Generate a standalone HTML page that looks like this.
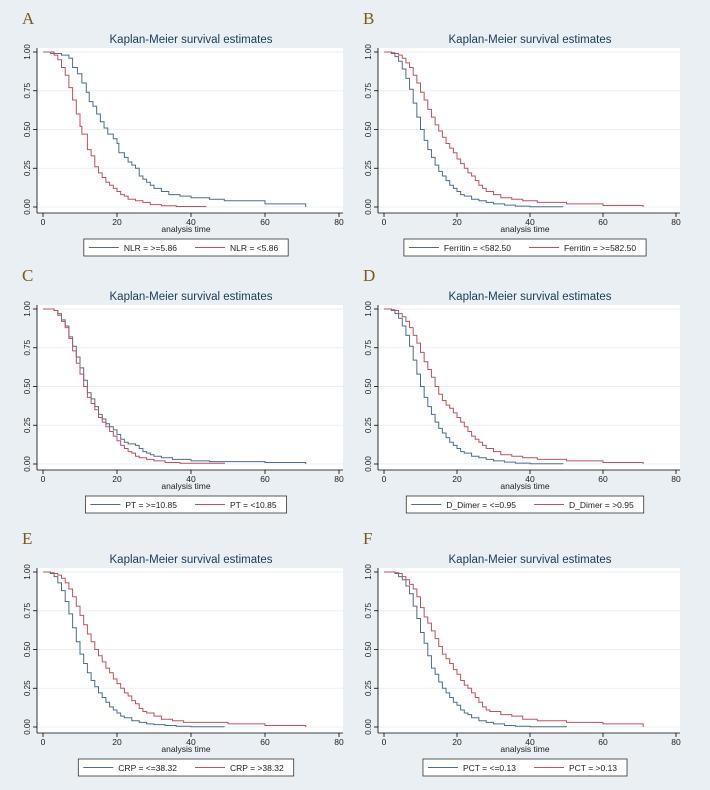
<!DOCTYPE html>
<html><head><meta charset="utf-8"><style>
html,body{margin:0;padding:0;background:#e9eff2}
svg{display:block;font-family:"Liberation Sans",sans-serif}
</style></head><body>
<svg id="fig" width="710" height="790" viewBox="0 0 710 790" xmlns="http://www.w3.org/2000/svg"></svg>
<script>
// Panel data: times (analysis time) and survival values for each step curve
const panelLetters = ["A","B","C","D","E","F"];
const legendBlue = ["NLR = >=5.86","Ferritin = <582.50","PT = >=10.85","D_Dimer = <=0.95","CRP = <=38.32","PCT = <=0.13"];
const legendRed  = ["NLR = <5.86","Ferritin = >=582.50","PT = <10.85","D_Dimer = >0.95","CRP = >38.32","PCT = >0.13"];
const xTicks = [0,20,40,60,80];
const yTicks = [0,0.25,0.5,0.75,1];
const yTickLabels = ["0.00","0.25","0.50","0.75","1.00"];

// A
const aBlueT = [0,3,5,7,8,9.3,10.5,11.7,12.5,13.5,14.5,15.5,16.5,17.5,19,20,20.5,22,23,24,25,26,27,28,29,30,32,34,37,40,45,49,60,71];
const aBlueS = [1,0.99,0.98,0.96,0.90,0.86,0.80,0.74,0.68,0.65,0.60,0.55,0.51,0.47,0.44,0.41,0.35,0.32,0.29,0.27,0.25,0.20,0.18,0.16,0.14,0.12,0.10,0.08,0.07,0.06,0.05,0.04,0.02,0];
const aRedT = [0,2,3,4,5,6,7,8,9,10,10.5,12,13,14,15,16,17,18,19,20,21,22,23,25,27,29,32,36,44];
const aRedS = [1,0.99,0.98,0.95,0.90,0.85,0.77,0.69,0.60,0.52,0.47,0.37,0.33,0.26,0.22,0.19,0.16,0.14,0.12,0.10,0.08,0.07,0.05,0.04,0.03,0.015,0.008,0.003,0];
// B
const bBlueT = [0,2,3,4,5,6,7,8,9,10,11,12,13,14,15,16,17,18,19,20,21,22,24,26,28,30,33,36,40,49];
const bBlueS = [1,0.99,0.97,0.94,0.89,0.83,0.76,0.67,0.58,0.50,0.43,0.37,0.32,0.27,0.23,0.20,0.17,0.14,0.12,0.10,0.08,0.07,0.05,0.04,0.03,0.02,0.012,0.006,0.002,0];
const bRedT = [0,2,3,4,5,6,7,8,9,10,11,12,13,14,15,16,17,18,19,20,21,22,23,24,25,26,27,28,30,32,35,38,42,50,60,71];
const bRedS = [1,0.995,0.99,0.98,0.96,0.93,0.90,0.85,0.80,0.74,0.69,0.63,0.58,0.53,0.49,0.45,0.41,0.38,0.35,0.31,0.28,0.25,0.22,0.20,0.17,0.14,0.12,0.10,0.08,0.06,0.05,0.04,0.03,0.02,0.01,0];
// C
const cBlueT = [0,3,4,5,6,7,8,9,10,11,12,13,14,15,16,17,18,19,20,21,22,23,25,26,27,28,29,30,32,35,40,45,60,71];
const cBlueS = [1,0.99,0.96,0.93,0.89,0.82,0.76,0.69,0.62,0.54,0.46,0.42,0.37,0.32,0.29,0.26,0.24,0.22,0.19,0.16,0.14,0.13,0.12,0.10,0.08,0.07,0.06,0.05,0.04,0.03,0.02,0.015,0.01,0];
const cRedT = [0,3,4,5,6,7,8,9,10,11,12,13,14,15,16,17,18,19,20,21,22,23,24,25,26,28,30,33,37,49];
const cRedS = [1,0.99,0.97,0.92,0.88,0.81,0.73,0.65,0.58,0.50,0.43,0.39,0.35,0.30,0.27,0.24,0.21,0.18,0.15,0.12,0.10,0.08,0.07,0.05,0.04,0.03,0.02,0.01,0.005,0];
// D
const dBlueT = [0,2,3,4,5,6,7,8,9,10,11,12,13,14,15,16,17,18,19,20,21,22,24,26,28,30,33,36,40,49];
const dBlueS = [1,0.99,0.97,0.94,0.89,0.83,0.76,0.67,0.58,0.50,0.43,0.37,0.32,0.27,0.23,0.20,0.17,0.14,0.12,0.10,0.08,0.07,0.05,0.04,0.03,0.02,0.012,0.006,0.002,0];
const dRedT = [0,2,3,4,5,6,7,8,9,10,11,12,13,14,15,16,17,18,19,20,21,22,23,24,25,26,27,28,30,32,35,38,42,50,60,71];
const dRedS = [1,0.995,0.99,0.97,0.95,0.92,0.88,0.83,0.78,0.72,0.66,0.61,0.56,0.50,0.45,0.41,0.38,0.36,0.33,0.30,0.27,0.24,0.21,0.18,0.16,0.14,0.12,0.10,0.08,0.06,0.05,0.04,0.03,0.02,0.01,0];
// E
const eBlueT = [0,2,3,4,5,6,7,8,9,10,11,12,13,14,15,16,17,18,19,20,21,22,24,26,28,30,33,36,40,49];
const eBlueS = [1,0.99,0.97,0.93,0.88,0.81,0.73,0.64,0.55,0.47,0.41,0.35,0.30,0.26,0.22,0.19,0.16,0.13,0.11,0.09,0.07,0.06,0.04,0.03,0.02,0.015,0.01,0.005,0.002,0];
const eRedT = [0,2,3,4,5,6,7,8,9,10,11,12,13,14,15,16,17,18,19,20,21,22,23,24,25,26,27,28,30,32,35,38,42,50,60,71];
const eRedS = [1,0.995,0.99,0.98,0.96,0.93,0.89,0.84,0.78,0.72,0.66,0.60,0.55,0.50,0.46,0.42,0.38,0.35,0.31,0.28,0.25,0.22,0.20,0.17,0.15,0.12,0.10,0.09,0.07,0.05,0.04,0.03,0.03,0.02,0.01,0];
// F
const fBlueT = [0,3,4,5,6,7,8,9,10,11,12,13,14,15,16,17,18,19,20,21,22,23,24,26,28,30,33,36,40,50];
const fBlueS = [1,0.99,0.97,0.95,0.91,0.86,0.78,0.70,0.61,0.54,0.46,0.38,0.34,0.29,0.25,0.22,0.19,0.16,0.14,0.11,0.09,0.08,0.06,0.04,0.03,0.02,0.01,0.005,0.002,0];
const fRedT = [0,3,4,5,6,7,8,9,10,11,12,13,14,15,16,17,18,19,20,21,22,23,24,25,26,27,28,29,30,32,35,38,42,50,60,71];
const fRedS = [1,0.995,0.99,0.97,0.95,0.92,0.89,0.84,0.77,0.71,0.67,0.62,0.57,0.52,0.47,0.44,0.41,0.37,0.34,0.30,0.27,0.25,0.22,0.19,0.16,0.13,0.11,0.10,0.10,0.08,0.07,0.05,0.04,0.03,0.02,0];

const blueT=[aBlueT,bBlueT,cBlueT,dBlueT,eBlueT,fBlueT], blueS=[aBlueS,bBlueS,cBlueS,dBlueS,eBlueS,fBlueS];
const redT=[aRedT,bRedT,cRedT,dRedT,eRedT,fRedT], redS=[aRedS,bRedS,cRedS,dRedS,eRedS,fRedS];

const NS="http://www.w3.org/2000/svg";
const svg=document.getElementById('fig');
function mk(tag,attrs,parent,text){const e=document.createElementNS(NS,tag);for(const k in attrs)e.setAttribute(k,attrs[k]);if(text!==undefined)e.textContent=text;(parent||svg).appendChild(e);return e;}

const colX=[0,341], colW=[296,292], rowY=[0,257,520];
for(let p=0;p<6;p++){
  const c=p%2, r=Math.floor(p/2), ox=colX[c], oy=rowY[r];
  const x0=43+ox, x1=x0+colW[c], yTop=52+oy, yBot=207+oy;
  const sx=t=>x0+(t/80)*(x1-x0);
  const sy=v=>yBot-v*(yBot-yTop);
  const g=mk('g',{});
  
  
  const lab=mk('text',{x:22+ox,y:24+oy,'font-family':'Liberation Serif,serif','font-size':17,fill:'#7a5a1a'},g,panelLetters[p]);
  
  
  const plot=mk('rect',{x:x0-6,y:yTop-4,width:(x1-x0)+10,height:(yBot-yTop)+10,fill:'#fff'},g);
  
  
  const title=mk('text',{x:(x0+x1)/2,y:43+oy,'text-anchor':'middle','font-size':11.5,fill:'#1a3a5a'},g,'Kaplan-Meier survival estimates');
  
  
  yTicks.forEach((v,i)=>{
    const gl=mk('line',{x1:x0-6,x2:x1+4,y1:sy(v),y2:sy(v),stroke:'#eaf0f3','stroke-width':1},g);
    
    
    mk('line',{x1:x0-10,x2:x0-6,y1:sy(v),y2:sy(v),stroke:'#000','stroke-width':0.8},g);
    const t=mk('text',{x:0,y:0,transform:`translate(${x0-13},${sy(v)}) rotate(-90)`,'text-anchor':'middle','font-size':8,fill:'#222'},g,yTickLabels[i]);
    
    
  });
  mk('line',{x1:x0-6,x2:x0-6,y1:yTop-4,y2:yBot+6,stroke:'#000','stroke-width':0.8},g);
  mk('line',{x1:x0-6,x2:x1+4,y1:yBot+6,y2:yBot+6,stroke:'#000','stroke-width':0.8},g);
  xTicks.forEach(v=>{
    mk('line',{x1:sx(v),x2:sx(v),y1:yBot+6,y2:yBot+10,stroke:'#000','stroke-width':0.8},g);
    const t=mk('text',{x:sx(v),y:yBot+18,'text-anchor':'middle','font-size':8.5,fill:'#222'},g,String(v));
    
    
  });
  const xt=mk('text',{x:(x0+x1)/2-5,y:yBot+25,'text-anchor':'middle','font-size':8.5,fill:'#222'},g,'analysis time');
  
  
  function step(T,S,color,name){
    let d=`M${sx(T[0])},${sy(S[0])}`;
    for(let i=1;i<T.length;i++){d+=` H${sx(T[i])} V${sy(S[i])}`;}
    const path=mk('path',{d:d,fill:'none',stroke:color,'stroke-width':1},g);
    
    
  }
  step(blueT[p],blueS[p],'#4d6d92','km-curve-blue');
  step(redT[p],redS[p],'#c0525e','km-curve-red');
  // legend: sized to content, centred under plot
  const ly=yBot+32;
  const lg=mk('g',{},g);
  
  
  const box=mk('rect',{x:0,y:ly,width:10,height:17,fill:'#fff',stroke:'#333','stroke-width':0.8},lg);
  const l1=mk('line',{y1:ly+8.5,y2:ly+8.5,stroke:'#4d6d92','stroke-width':1},lg);
  const t1=mk('text',{y:ly+12,'font-size':8.5,fill:'#222'},lg,legendBlue[p]);
  
  
  const l2=mk('line',{y1:ly+8.5,y2:ly+8.5,stroke:'#c0525e','stroke-width':1},lg);
  const t2=mk('text',{y:ly+12,'font-size':8.5,fill:'#222'},lg,legendRed[p]);
  
  
  const w1=t1.getComputedTextLength(), w2=t2.getComputedTextLength();
  const lw=5+30+5+w1+18+30+5+w2+10;
  const lx=(x0+x1)/2-5-lw/2;
  box.setAttribute('x',lx); box.setAttribute('width',lw);
  l1.setAttribute('x1',lx+5); l1.setAttribute('x2',lx+35);
  t1.setAttribute('x',lx+40);
  const s2=lx+40+w1+18;
  l2.setAttribute('x1',s2); l2.setAttribute('x2',s2+30);
  t2.setAttribute('x',s2+35);
}
</script>
</body></html>
